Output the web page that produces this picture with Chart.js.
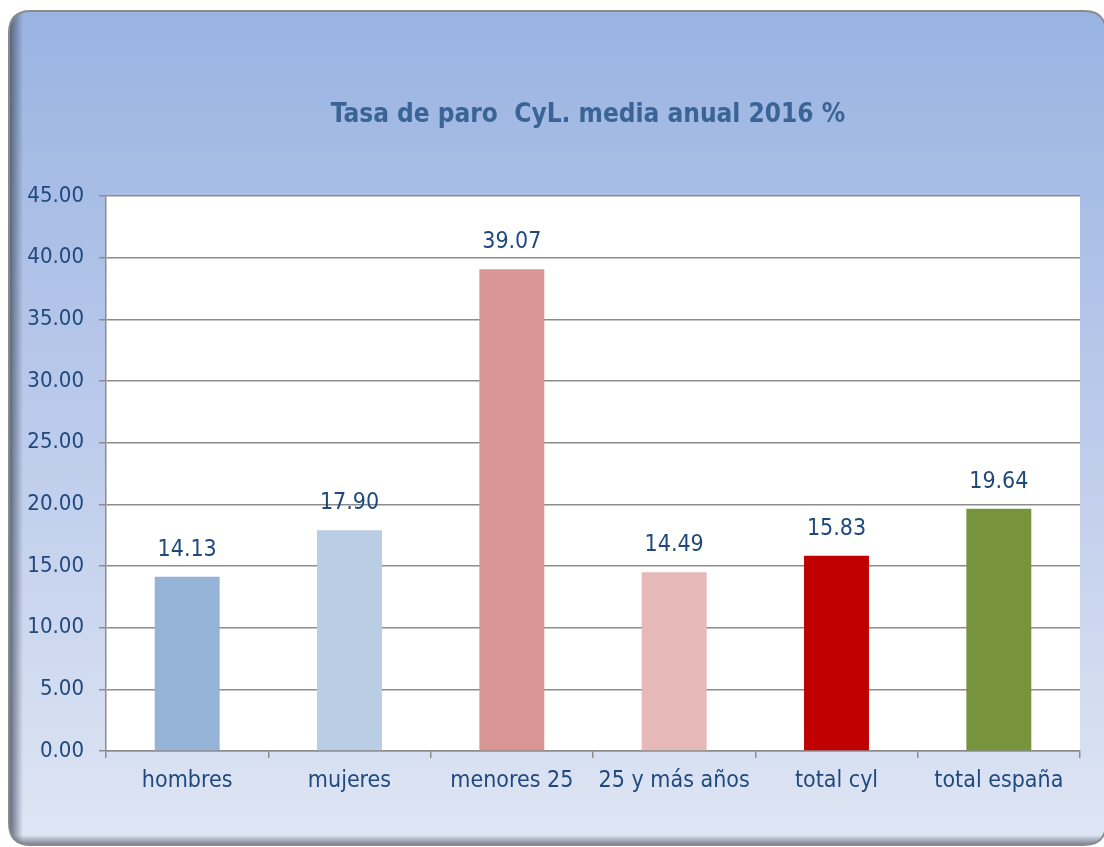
<!DOCTYPE html>
<html>
<head>
<meta charset="utf-8">
<script src="https://cdn.jsdelivr.net/npm/chart.js@4/dist/chart.umd.min.js"></script>
<style>
html,body{margin:0;padding:0;background:#ffffff;}
#wrap{width:1104px;height:847px;position:relative;}
</style>
</head>
<body>
<div id="wrap"><canvas id="c" width="1104" height="847"></canvas></div>
<script>
const categories = ["hombres", "mujeres", "menores 25", "25 y más años", "total cyl", "total españa"];
const values = [14.13, 17.90, 39.07, 14.49, 15.83, 19.64];
const barColors = ["#95b3d7", "#b9cde5", "#d99694", "#e6b9b8", "#c00000", "#77933c"];
const yTicks = [0, 5, 10, 15, 20, 25, 30, 35, 40, 45];
const titleText = "Tasa de paro  CyL. media anual 2016 %";

const FONT = "'DejaVu Sans Condensed', 'DejaVu Sans', Tahoma, sans-serif";
const TEXT_COLOR = "#1f497d";

function roundRect(ctx, x, y, w, h, r) {
  ctx.beginPath();
  ctx.moveTo(x + r, y);
  ctx.lineTo(x + w - r, y);
  ctx.quadraticCurveTo(x + w, y, x + w, y + r);
  ctx.lineTo(x + w, y + h - r);
  ctx.quadraticCurveTo(x + w, y + h, x + w - r, y + h);
  ctx.lineTo(x + r, y + h);
  ctx.quadraticCurveTo(x, y + h, x, y + h - r);
  ctx.lineTo(x, y + r);
  ctx.quadraticCurveTo(x, y, x + r, y);
  ctx.closePath();
}

const bgPlugin = {
  id: 'bg',
  beforeDraw(chart) {
    const ctx = chart.ctx;
    const x = 9, y = 11, w = 1106 - 9, h = 845 - 11, r = 22;
    ctx.save();
    const g = ctx.createLinearGradient(0, y, 0, y + h);
    g.addColorStop(0, "#99b3e1");
    g.addColorStop(0.5, "#bccbeb");
    g.addColorStop(1, "#dfe6f4");
    roundRect(ctx, x, y, w, h, r);
    ctx.fillStyle = g;
    ctx.fill();
    ctx.save();
    roundRect(ctx, x, y, w, h, r);
    ctx.clip();
    const gl = ctx.createLinearGradient(x, 0, x + 14, 0);
    gl.addColorStop(0, "rgba(70,80,100,0.85)");
    gl.addColorStop(1, "rgba(70,80,100,0)");
    ctx.fillStyle = gl;
    ctx.fillRect(x, y, 14, h);
    const gb = ctx.createLinearGradient(0, y + h, 0, y + h - 10);
    gb.addColorStop(0, "rgba(70,80,100,0.7)");
    gb.addColorStop(1, "rgba(70,80,100,0)");
    ctx.fillStyle = gb;
    ctx.fillRect(x, y + h - 10, w, 10);
    ctx.restore();
    roundRect(ctx, x, y, w, h, r);
    ctx.strokeStyle = "#8a8a8a";
    ctx.lineWidth = 2;
    ctx.stroke();
    // plot area white
    const a = chart.chartArea;
    ctx.fillStyle = "#ffffff";
    ctx.fillRect(a.left, a.top, a.right - a.left, a.bottom - a.top);
    // title
    ctx.fillStyle = "#3a6496";
    ctx.font = "bold 26px " + FONT;
    ctx.textAlign = "center";
    ctx.textBaseline = "middle";
    ctx.fillText(titleText, (a.left + a.right) / 2 - 5, 115);
    ctx.restore();
  }
};

const labelPlugin = {
  id: 'vals',
  afterDatasetsDraw(chart) {
    const ctx = chart.ctx;
    const meta = chart.getDatasetMeta(0);
    ctx.save();
    ctx.fillStyle = TEXT_COLOR;
    ctx.font = "23px " + FONT;
    ctx.textAlign = "center";
    ctx.textBaseline = "middle";
    meta.data.forEach((bar, i) => {
      ctx.fillText(values[i].toFixed(2), bar.x, bar.y - 27);
    });
    ctx.restore();
  }
};

new Chart(document.getElementById('c'), {
  type: 'bar',
  data: {
    labels: categories,
    datasets: [{
      data: values,
      backgroundColor: barColors,
      borderWidth: 0,
      barPercentage: 0.4,
      categoryPercentage: 1.0
    }]
  },
  options: {
    responsive: false,
    animation: false,
    devicePixelRatio: 1,
    layout: { padding: { left: 0, right: 24, top: 196, bottom: 0 } },
    plugins: {
      legend: { display: false },
      tooltip: { enabled: false },
      title: { display: false }
    },
    scales: {
      y: {
        min: 0, max: 45,
        afterFit(scale) { scale.width = 106; },
        afterBuildTicks(scale) { scale.ticks = yTicks.map(v => ({ value: v })); },
        ticks: {
          color: TEXT_COLOR,
          font: { family: FONT, size: 22 },
          padding: 15,
          callback: v => Number(v).toFixed(2)
        },
        grid: { color: "#8c8c8c", lineWidth: 1.5, tickLength: 7 },
        border: { color: "#8c8c8c", width: 1.5 }
      },
      x: {
        afterFit(scale) { scale.height = 847 - 751; },
        ticks: {
          color: TEXT_COLOR,
          font: { family: FONT, size: 23 },
          padding: 9,
          maxRotation: 0,
          autoSkip: false
        },
        grid: { offset: true, drawOnChartArea: false, color: "#8c8c8c", lineWidth: 1.5, tickLength: 7 },
        border: { color: "#8c8c8c", width: 1.5 }
      }
    }
  },
  plugins: [bgPlugin, labelPlugin]
});
</script>
</body>
</html>
